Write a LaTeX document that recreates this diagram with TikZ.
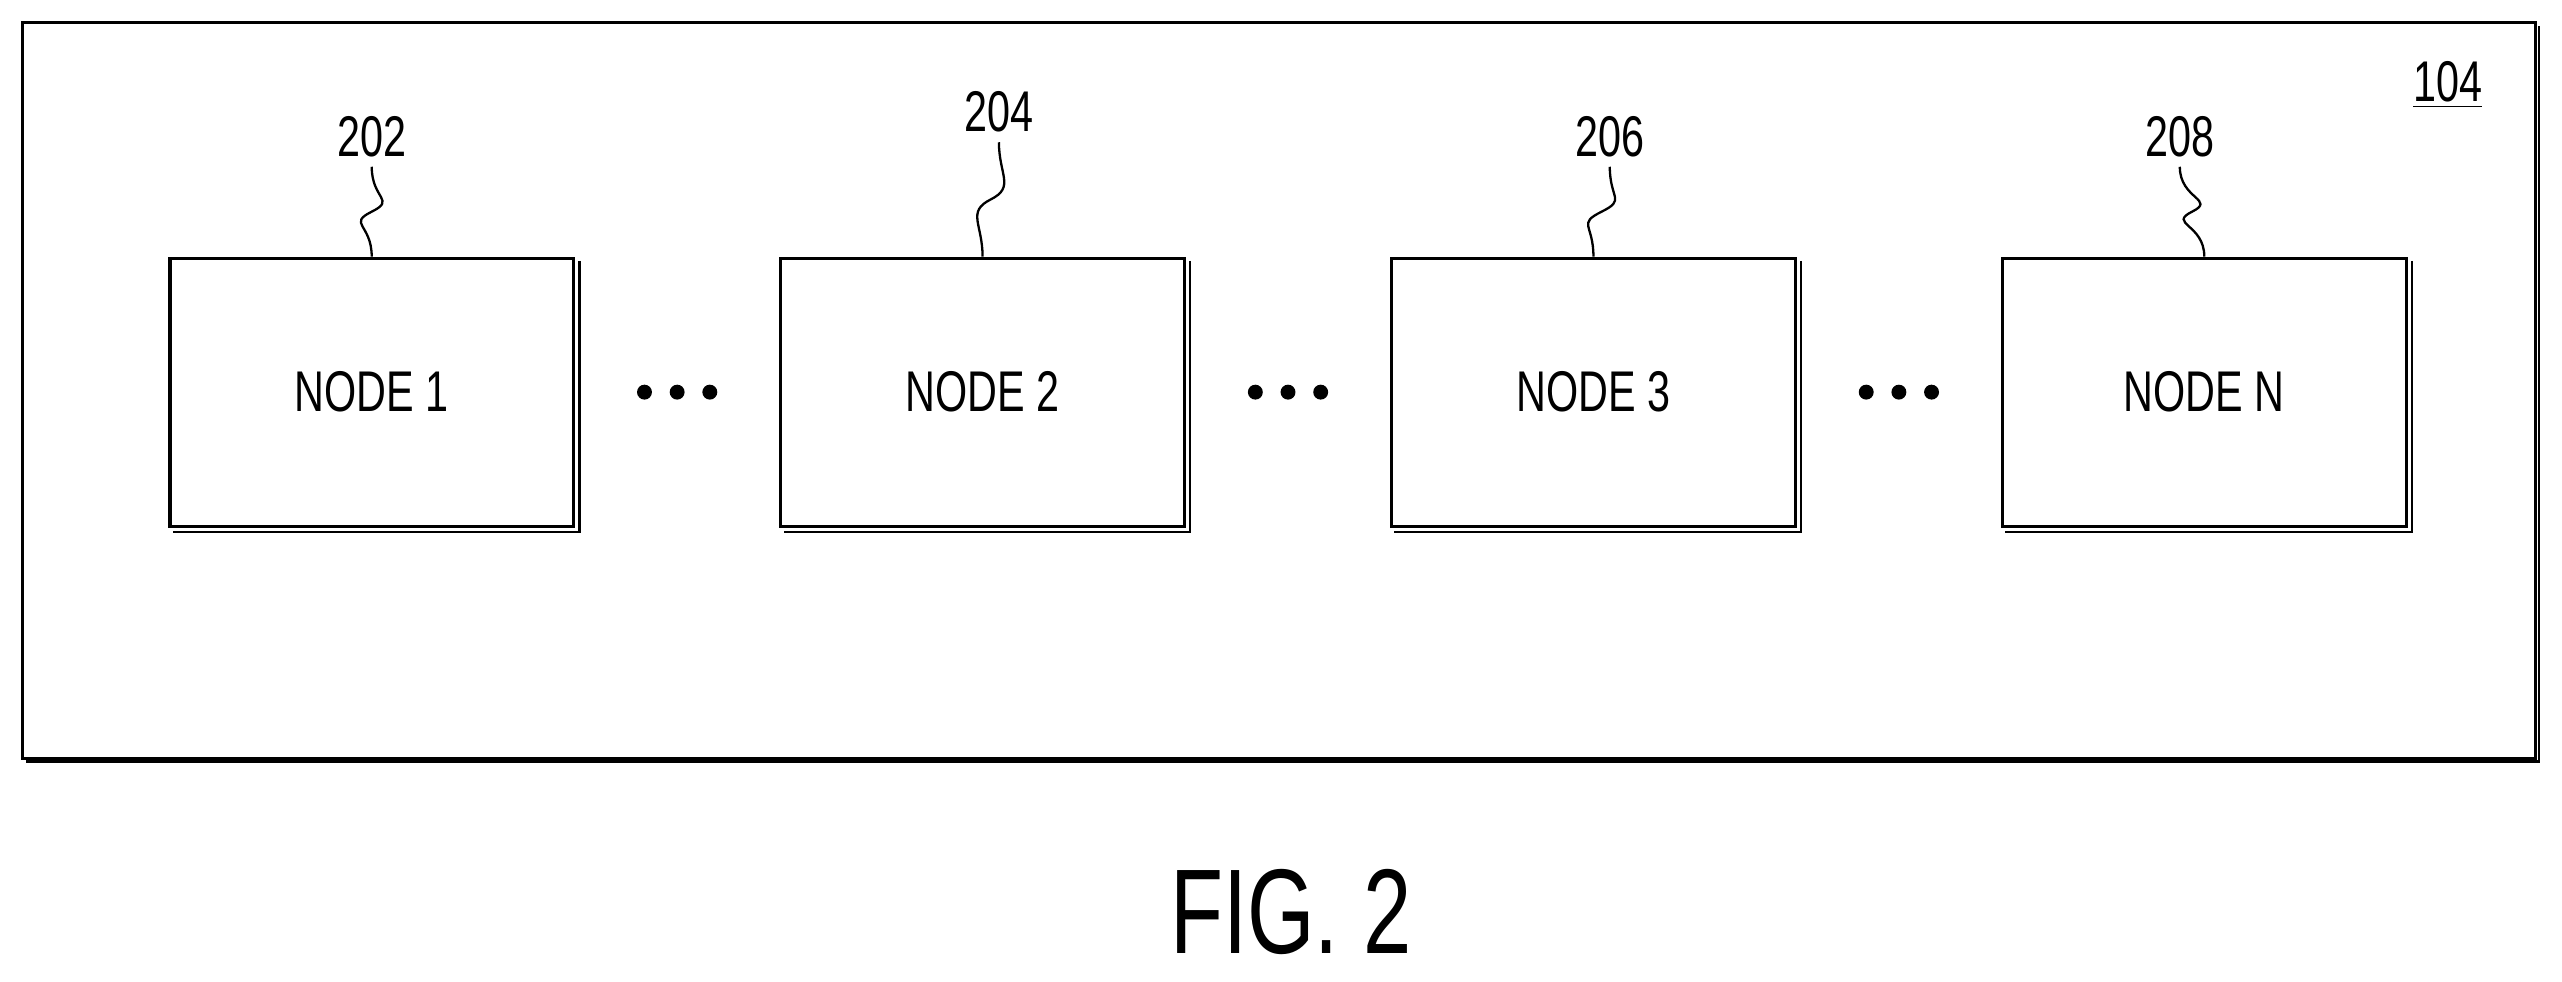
\documentclass[tikz,border=0pt]{standalone}
\usepackage{fontspec}
\setmainfont[FakeStretch=0.72]{Liberation Sans}
\usetikzlibrary{positioning,calc}

\begin{document}
\begin{tikzpicture}[x=0.02cm, y=-0.02cm,
  blk/.style={draw, line width=1.1pt, minimum width=4.94cm, minimum height=3.28cm, font=\fontsize{20}{24}\selectfont},
  ref/.style={font=\fontsize{20}{24}\selectfont},
  lead/.style={line width=0.8pt},
]
\useasboundingbox (0,0) rectangle (1568,601);
% outer frame
\draw [line width=1.1pt] (14,14) rectangle (1552,464);
\draw [line width=0.8pt] (16,466) -- (1554,466) -- (1554,16);
\node [ref] (f104) at (1498,52) {\underline{104}};

% nodes
\node [blk] (n1) at (227.5,240) {NODE 1};
\node [blk, right=2.5cm of n1] (n2) {NODE 2};
\node [blk, right=2.5cm of n2] (n3) {NODE 3};
\node [blk, right=2.5cm of n3] (n4) {NODE N};
\foreach \n in {n1,n2,n3,n4}
  \draw [line width=0.8pt] ([shift={(1.5pt,-1.5pt)}]\n.north east) -- ([shift={(1.5pt,-1.5pt)}]\n.south east) -- ([shift={(1.5pt,-1.5pt)}]\n.south west);

% dots
\foreach \a/\b [count=\i] in {n1/n2,n2/n3,n3/n4}
  \foreach \d in {-0.4,0,0.4}
    \fill ($(\a.east)!0.5!(\b.west)+(\d cm,0)$) circle (2.6pt);

% reference numerals
\node [ref, above=1.1cm of n1.north] (l202) {202};
\node [ref, above=1.4cm of n2.north, xshift=0.2cm] (l204) {204};
\node [ref, above=1.1cm of n3.north, xshift=0.2cm] (l206) {206};
\node [ref, above=1.1cm of n4.north, xshift=-0.3cm] (l208) {208};
\foreach \l/\n in {l202/n1,l204/n2,l206/n3,l208/n4}
  \draw [lead] (\l.south) .. controls +(0,-0.4cm) and +(0.3cm,0.15cm) .. ($(\l.south)!0.5!(\n.north)$)
     .. controls +(-0.3cm,-0.15cm) and +(0,0.4cm) .. (\n.north);

\node [font=\fontsize{42}{46}\selectfont] (fig) at (790,558) {FIG. 2};
\end{tikzpicture}
\end{document}
